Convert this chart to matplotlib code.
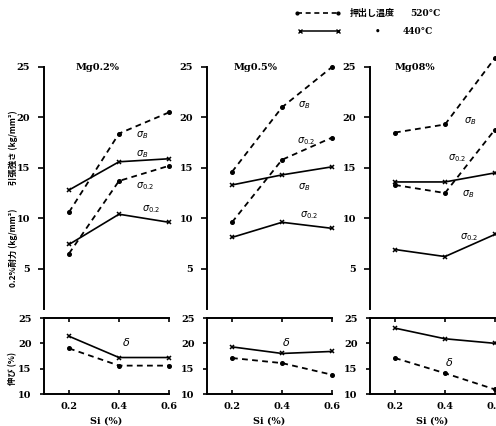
import matplotlib
matplotlib.use('Agg')
import matplotlib.pyplot as plt
from matplotlib.lines import Line2D

# Si 添加量 (%)
si = [0.2, 0.4, 0.6]
panel_titles = ['Mg0.2%', 'Mg0.5%', 'Mg08%']

# 引張強さ σB (kg/mm2)  520°C押出し / 440°C押出し
ts_520_mg02 = [10.6, 18.4, 20.5]
ts_440_mg02 = [12.8, 15.6, 15.9]
ts_520_mg05 = [14.6, 21.0, 25.0]
ts_440_mg05 = [13.3, 14.3, 15.1]
ts_520_mg08 = [18.5, 19.3, 25.9]
ts_440_mg08 = [13.6, 13.6, 14.5]

# 0.2%耐力 σ0.2 (kg/mm2)
ys_520_mg02 = [6.5, 13.7, 15.2]
ys_440_mg02 = [7.4, 10.4, 9.6]
ys_520_mg05 = [9.6, 15.8, 18.0]
ys_440_mg05 = [8.1, 9.6, 9.0]
ys_520_mg08 = [13.3, 12.5, 18.8]
ys_440_mg08 = [6.9, 6.2, 8.4]

# 伸び δ (%)
el_520_mg02 = [19.0, 15.6, 15.6]
el_440_mg02 = [21.4, 17.2, 17.2]
el_520_mg05 = [17.1, 16.1, 13.8]
el_440_mg05 = [19.3, 18.0, 18.4]
el_520_mg08 = [17.1, 14.1, 10.9]
el_440_mg08 = [23.0, 20.9, 20.0]

top_yticks = [5, 10, 15, 20, 25]
bot_yticks = [10, 15, 20, 25]

num_font = dict(family='DejaVu Serif', weight='bold')
jp_font = ['Noto Sans CJK JP', 'DejaVu Sans']

columns = [
    (ts_520_mg02, ts_440_mg02, ys_520_mg02, ys_440_mg02, el_520_mg02, el_440_mg02),
    (ts_520_mg05, ts_440_mg05, ys_520_mg05, ys_440_mg05, el_520_mg05, el_440_mg05),
    (ts_520_mg08, ts_440_mg08, ys_520_mg08, ys_440_mg08, el_520_mg08, el_440_mg08),
]

# σ ラベルの位置 (x, y): 上から σB(520), σB(440), σ0.2(520), σ0.2(440)
sigma_labels = [
    [(0.47, 18.2, r'$\sigma_B$'), (0.47, 16.4, r'$\sigma_B$'),
     (0.47, 13.2, r'$\sigma_{0.2}$'), (0.49, 10.9, r'$\sigma_{0.2}$')],
    [(0.465, 21.2, r'$\sigma_B$'), (0.46, 17.7, r'$\sigma_{0.2}$'),
     (0.465, 13.1, r'$\sigma_B$'), (0.47, 10.3, r'$\sigma_{0.2}$')],
    [(0.475, 19.6, r'$\sigma_B$'), (0.41, 16.0, r'$\sigma_{0.2}$'),
     (0.47, 12.4, r'$\sigma_B$'), (0.46, 8.1, r'$\sigma_{0.2}$')],
]
delta_pos = [(0.41, 20.3), (0.40, 20.3), (0.40, 16.4)]
title_x = [0.225, 0.205, 0.2]

W, H = 496, 426
fig = plt.figure(figsize=(W / 100, H / 100), dpi=100)
fig.patch.set_facecolor('white')

col_left = [44, 207, 370]
ax_w = 125


def dashed(ax, y):
    ln, = ax.plot(si, y, color='black', lw=1.3, marker='o', ms=2.6,
                  clip_on=False)
    ln.set_dashes([3.2, 2.4])
    return ln


def solid(ax, y):
    ax.plot(si, y, color='black', lw=1.2, marker='x', ms=3.5, mew=1.1,
            clip_on=False)


def style_ticks(ax):
    for lab in ax.get_yticklabels() + ax.get_xticklabels():
        lab.set_fontfamily('DejaVu Serif')
        lab.set_fontweight('bold')
        lab.set_fontsize(7)


for i, (ts5, ts4, ys5, ys4, el5, el4) in enumerate(columns):
    left = col_left[i] / W
    # 強度 (上段)
    ax = fig.add_axes([left, 1 - 309 / H, ax_w / W, (309 - 67) / H])
    ax.set_xlim(0.1, 0.6)
    ax.set_ylim(1, 25)
    for s in ['top', 'right', 'bottom']:
        ax.spines[s].set_visible(False)
    ax.spines['left'].set_linewidth(1.4)
    ax.set_xticks([])
    ax.set_yticks(top_yticks)
    ax.tick_params(axis='y', direction='out', length=4, width=1.2, pad=6)
    style_ticks(ax)
    dashed(ax, ts5)
    solid(ax, ts4)
    dashed(ax, ys5)
    solid(ax, ys4)
    for x, y, t in sigma_labels[i]:
        ax.text(x, y, t, fontsize=7, fontweight='bold', va='center')
    ax.text(title_x[i], 25, panel_titles[i], fontsize=7, va='center', **num_font)

    # 伸び (下段)
    bx = fig.add_axes([left, 1 - 394 / H, ax_w / W, (394 - 318) / H])
    bx.set_xlim(0.1, 0.6)
    bx.set_ylim(10, 25)
    bx.spines['right'].set_visible(False)
    for s in ['top', 'bottom', 'left']:
        bx.spines[s].set_linewidth(1.4)
    bx.set_xticks(si)
    bx.set_xticklabels(['0.2', '0.4', '0.6'])
    bx.set_yticks(bot_yticks)
    bx.tick_params(axis='x', direction='in', top=True, length=3, width=1.2, pad=6)
    bx.tick_params(axis='y', direction='out', length=3, width=1.2, pad=6)
    style_ticks(bx)
    dashed(bx, el5)
    solid(bx, el4)
    bx.text(delta_pos[i][0], delta_pos[i][1], r'$\delta$', fontsize=8,
            fontweight='bold', va='center')
    bx.set_xlabel('Si (%)', fontsize=7, labelpad=4, **num_font)

# 縦軸ラベル
fig.text(13 / W, 1 - 248 / H, '0.2%耐力 (kg/mm²)', rotation=90, fontsize=6,
         ha='center', va='center', family=jp_font, weight='bold')
fig.text(13 / W, 1 - 148 / H, '引張強さ (kg/mm²)', rotation=90, fontsize=6,
         ha='center', va='center', family=jp_font, weight='bold')
fig.text(13 / W, 1 - 368 / H, '伸び (%)', rotation=90, fontsize=6,
         ha='center', va='center', family=jp_font, weight='bold')

# 凡例
leg1 = Line2D([297 / W, 338 / W], [1 - 13 / H, 1 - 13 / H], color='black',
              lw=1.2, marker='o', ms=2, transform=fig.transFigure)
leg1.set_dashes([3, 2.2])
fig.add_artist(leg1)
fig.add_artist(Line2D([300 / W, 338 / W], [1 - 31 / H, 1 - 31 / H], color='black',
                      lw=1.1, marker='x', ms=3, mew=1, transform=fig.transFigure))
fig.text(350 / W, 1 - 13 / H, '押出し温度', fontsize=6.5, va='center',
         family=jp_font, weight='bold')
fig.text(410 / W, 1 - 13 / H, '520°C', fontsize=6.5, va='center', **num_font)
fig.text(378 / W, 1 - 31 / H, '•', fontsize=6.5, va='center', ha='center', **num_font)
fig.text(403 / W, 1 - 31 / H, '440°C', fontsize=6.5, va='center', **num_font)

fig.savefig('out.png', dpi=100, facecolor='white')
